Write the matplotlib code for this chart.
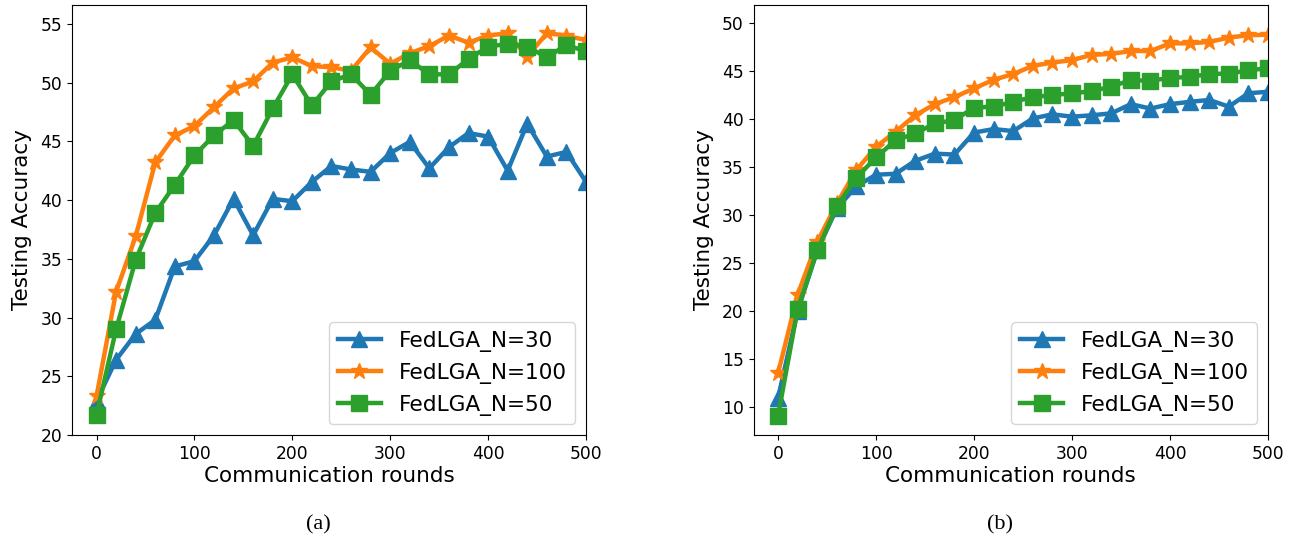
import matplotlib
matplotlib.use("Agg")
import matplotlib.pyplot as plt

rounds = list(range(0, 501, 20))

# (a)
acc_a_n30 = [22.9, 26.4, 28.6, 29.8, 34.35, 34.8, 37.0, 40.1, 37.0, 40.1, 39.9, 41.55, 42.9,
             42.6, 42.4, 44.0, 44.95, 42.7, 44.5, 45.7, 45.4, 42.5, 46.5, 43.7, 44.1, 41.55]
acc_a_n100 = [23.3, 32.2, 36.9, 43.2, 45.5, 46.3, 47.9, 49.5, 50.1, 51.7, 52.15, 51.4, 51.3,
              51.0, 53.0, 51.6, 52.5, 53.1, 54.0, 53.4, 54.0, 54.2, 52.2, 54.2, 54.0, 53.6]
acc_a_n50 = [21.7, 29.0, 34.9, 38.9, 41.3, 43.8, 45.5, 46.8, 44.6, 47.8, 50.7, 48.05, 50.1,
             50.7, 48.96, 51.0, 51.9, 50.7, 50.7, 52.0, 53.05, 53.3, 53.05, 52.15, 53.2, 52.65]

# (b)
acc_b_n30 = [10.9, 20.0, 26.3, 30.7, 33.0, 34.2, 34.3, 35.65, 36.4, 36.3, 38.6, 38.96, 38.75,
             40.07, 40.5, 40.25, 40.4, 40.6, 41.56, 41.1, 41.56, 41.8, 42.0, 41.3, 42.7, 42.85]
acc_b_n100 = [13.5, 21.7, 27.2, 31.2, 34.7, 37.1, 38.7, 40.4, 41.56, 42.3, 43.2, 44.1, 44.7,
              45.55, 45.9, 46.15, 46.7, 46.8, 47.1, 47.1, 47.9, 47.9, 48.05, 48.5, 48.75, 48.8]
acc_b_n50 = [9.06, 20.2, 26.3, 30.9, 33.9, 36.0, 37.8, 38.5, 39.55, 39.9, 41.2, 41.3, 41.8,
             42.3, 42.5, 42.7, 42.9, 43.4, 44.06, 44.0, 44.3, 44.4, 44.7, 44.75, 45.1, 45.3]

fig = plt.figure(figsize=(12.91, 5.45), dpi=100)
ax1 = fig.add_axes([0.0558, 0.2018, 0.3981, 0.789])
ax2 = fig.add_axes([0.5837, 0.2018, 0.3985, 0.789])

panels = [
    (ax1, acc_a_n30, acc_a_n100, acc_a_n50, (20, 56.6)),
    (ax2, acc_b_n30, acc_b_n100, acc_b_n50, (7.05, 51.9)),
]

for ax, n30, n100, n50, ylim in panels:
    ax.plot(rounds, n30, marker="^", color="tab:blue", lw=3.2, ms=12, label="FedLGA_N=30")
    ax.plot(rounds, n100, marker="*", color="tab:orange", lw=3.2, ms=12, label="FedLGA_N=100")
    ax.plot(rounds, n50, marker="s", color="tab:green", lw=3.2, ms=12, label="FedLGA_N=50")
    ax.set_xlim(-25, 500)
    ax.set_ylim(*ylim)
    ax.tick_params(labelsize=12.3)
    ax.set_xlabel("Communication rounds", fontsize=15.5, labelpad=2)
    ax.set_ylabel("Testing Accuracy", fontsize=15.5, labelpad=6)
    ax.legend(loc="lower right", fontsize=15.6)

fig.text(0.2463, 0.037, "(a)", ha="center", va="center", fontsize=16, family="Liberation Serif")
fig.text(0.7746, 0.037, "(b)", ha="center", va="center", fontsize=16, family="Liberation Serif")

fig.savefig("out.png", dpi=100)
